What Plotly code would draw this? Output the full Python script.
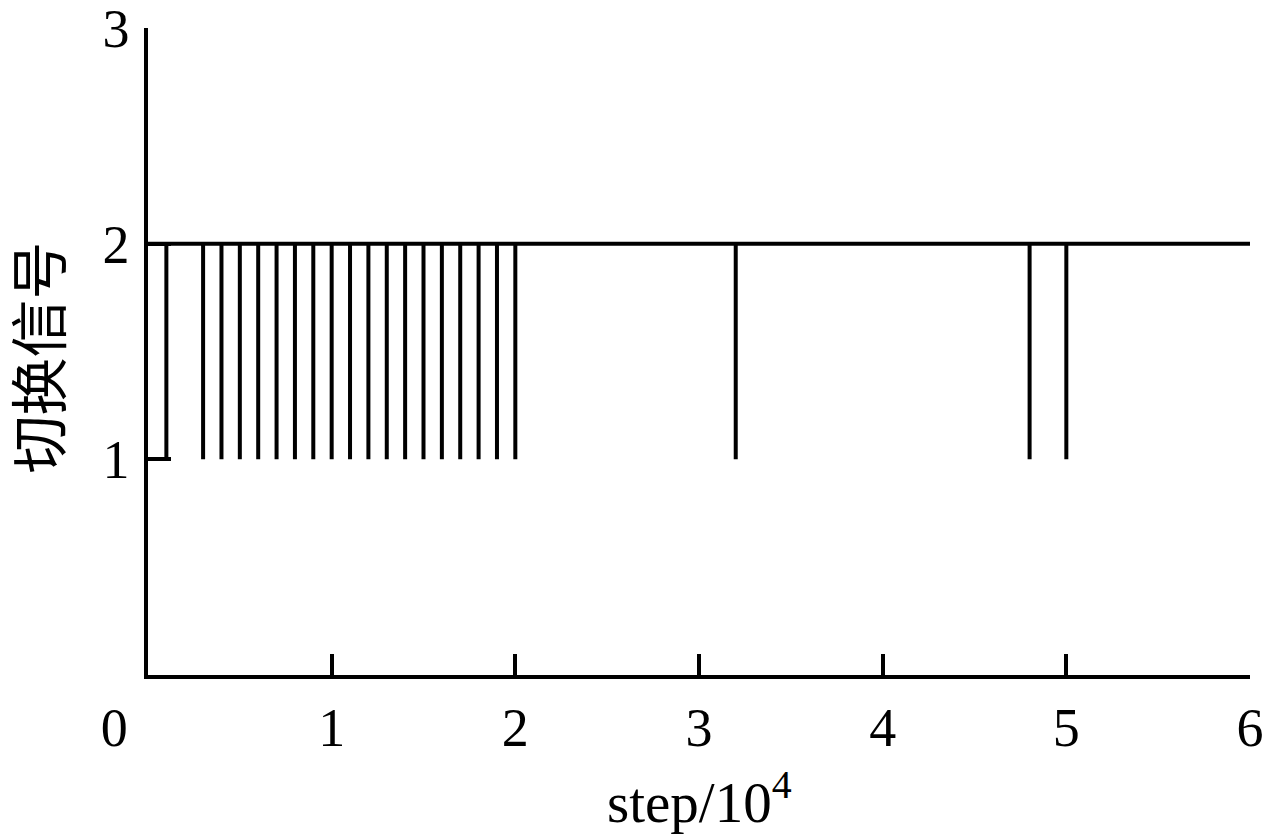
import plotly.graph_objects as go

# 切换信号: 基准电平 2，在下列时刻短暂切换到 1
x_start = 0.0
x_end = 6.0
level_high = 2
level_low = 1
spike_steps = [0.1, 0.3, 0.4, 0.5, 0.6, 0.7, 0.8, 0.9, 1.0, 1.1, 1.2, 1.3, 1.4,
               1.5, 1.6, 1.7, 1.8, 1.9, 2.0, 3.2, 4.8, 5.0]

x_tickvals = [0, 1, 2, 3, 4, 5, 6]
# 原图中原点的 "0" 向左偏移
x_ticktext = ['0' + '\u00a0' * 5, '1', '2', '3', '4', '5', '6']
y_tickvals = [1, 2, 3]

x_title = 'step/10<sup>4</sup>'
y_title = '切换信号'

# 构造阶跃信号轨迹
xs = [x_start]
ys = [level_high]
for s in spike_steps:
    xs += [s, s, s]
    ys += [level_high, level_low, level_high]
xs.append(x_end)
ys.append(level_high)

fig = go.Figure()
fig.add_trace(
    go.Scatter(
        x=xs,
        y=ys,
        mode='lines',
        line=dict(color='black', width=4),
        showlegend=False,
        hoverinfo='skip'
    )
)

serif = 'Liberation Serif, Times New Roman, serif'

fig.update_layout(
    width=1265,
    height=837,
    margin=dict(l=148, r=15, t=28, b=162),
    paper_bgcolor='white',
    plot_bgcolor='white',
    font=dict(family=serif, size=54, color='black')
)

fig.update_xaxes(
    range=[0, 6],
    tickvals=x_tickvals,
    ticktext=x_ticktext,
    ticks='inside',
    ticklen=21,
    tickwidth=3.5,
    tickcolor='black',
    showline=True,
    linewidth=3.5,
    linecolor='black',
    showgrid=False,
    zeroline=False,
    automargin=False,
    ticklabeloverflow='allow',
    ticklabelstandoff=2,
    tickfont=dict(family=serif, size=54)
)

fig.update_yaxes(
    range=[0, 3],
    tickvals=y_tickvals,
    ticks='inside',
    ticklen=23,
    tickwidth=3.5,
    tickcolor='black',
    showline=True,
    linewidth=3.5,
    linecolor='black',
    showgrid=False,
    zeroline=False,
    automargin=False,
    ticklabeloverflow='allow',
    ticklabelstandoff=4,
    tickfont=dict(family=serif, size=54)
)

# 坐标轴标题
fig.add_annotation(
    text=x_title, xref='paper', yref='paper', x=0.5, y=0,
    xanchor='center', yanchor='top', yshift=-85, showarrow=False,
    font=dict(family=serif, size=57)
)
fig.add_annotation(
    text=y_title, xref='paper', yref='paper', x=0, y=0.5,
    xanchor='center', yanchor='middle', xshift=-113, yshift=-6,
    textangle=-90, showarrow=False,
    font=dict(family='Noto Sans CJK SC', size=58)
)

# 去掉页面默认边距和滚动条，使图表正好铺满窗口
fig.write_html(
    "out.html",
    config={'displayModeBar': False},
    post_script="document.body.style.margin='0';document.body.style.overflow='hidden';"
)
